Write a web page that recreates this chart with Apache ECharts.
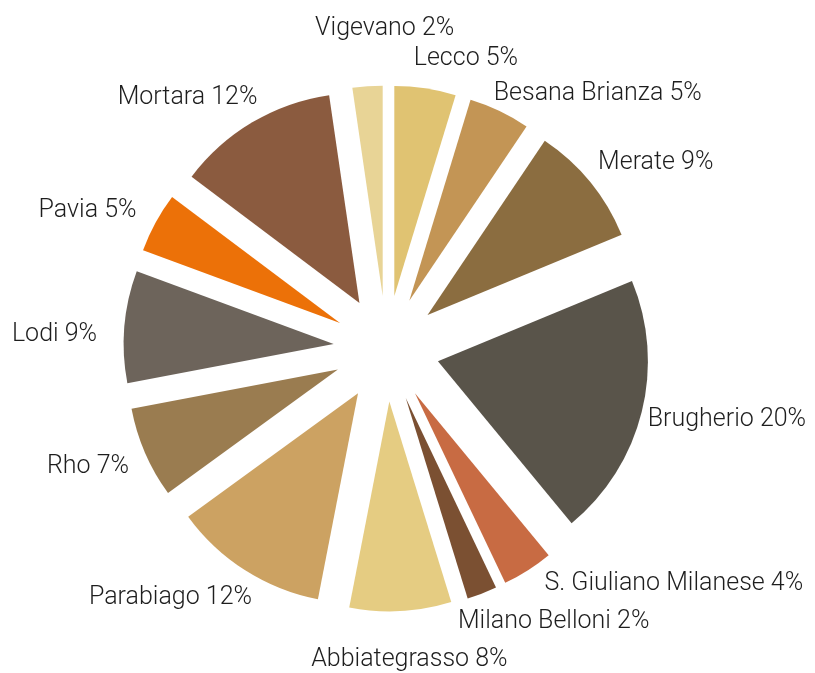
<!DOCTYPE html>
<html>
<head>
<meta charset="utf-8">
<script src="https://cdn.jsdelivr.net/npm/echarts@6/dist/echarts.min.js"></script>
<style>
  html, body { margin: 0; padding: 0; background: #fff; }
  #chart { width: 815px; height: 673px; }
</style>
</head>
<body>
<div id="chart"></div>
<script>
// Categories (clockwise from 12 o'clock)
const categories = ['Lecco', 'Besana Brianza', 'Merate', 'Brugherio', 'S. Giuliano Milanese', 'Milano Belloni',
  'Abbiategrasso', 'Parabiago', 'Rho', 'Lodi', 'Pavia', 'Mortara', 'Vigevano'];
// Shares (percent)
const shares = [4.7, 4.7, 9.3, 20.2, 3.9, 2.3, 7.8, 11.9, 7.0, 8.6, 4.6, 12.4, 2.3];
// Slice colours
const colors = ['#E0C372', '#C39555', '#8B6D40', '#59544A', '#C86B43', '#7B5032',
  '#E5CC82', '#CCA262', '#9A7C50', '#6D645B', '#EC7108', '#8B5B3F', '#E8D496'];

// Label placement tuning (hidden label lines: [length, length2])
const labelLens = [[30, -21], [19, -19], [31, -21], [33, -31], [16, 3], [30, -40],
  [49, -97], [32, -29], [36, -22], [-95, 117], [24, -7], [29, -25], [58, -96]];

const chart = echarts.init(document.getElementById('chart'), null, { renderer: 'canvas' });

const data = categories.map((name, i) => ({
  name: name,
  value: shares[i],
  selected: true,
  itemStyle: { color: colors[i] },
  labelLine: { show: false, length: labelLens[i][0], length2: labelLens[i][1] }
}));

chart.setOption({
  animation: false,
  backgroundColor: '#ffffff',
  series: [{
    type: 'pie',
    center: [386.5, 348.5],
    radius: [0, 210],
    startAngle: 90,
    clockwise: true,
    selectedMode: 'multiple',
    selectedOffset: 53,
    avoidLabelOverlap: false,
    silent: true,
    itemStyle: { borderWidth: 0 },
    label: {
      show: true,
      position: 'outside',
      fontFamily: 'Roboto',
      fontWeight: 300,
      fontSize: 25,
      color: '#1e1e1e',
      formatter: function (p) { return p.name + ' ' + Math.round(p.percent) + '%'; }
    },
    labelLine: { show: false },
    emphasis: { disabled: true },
    data: data
  }]
});
</script>
</body>
</html>
